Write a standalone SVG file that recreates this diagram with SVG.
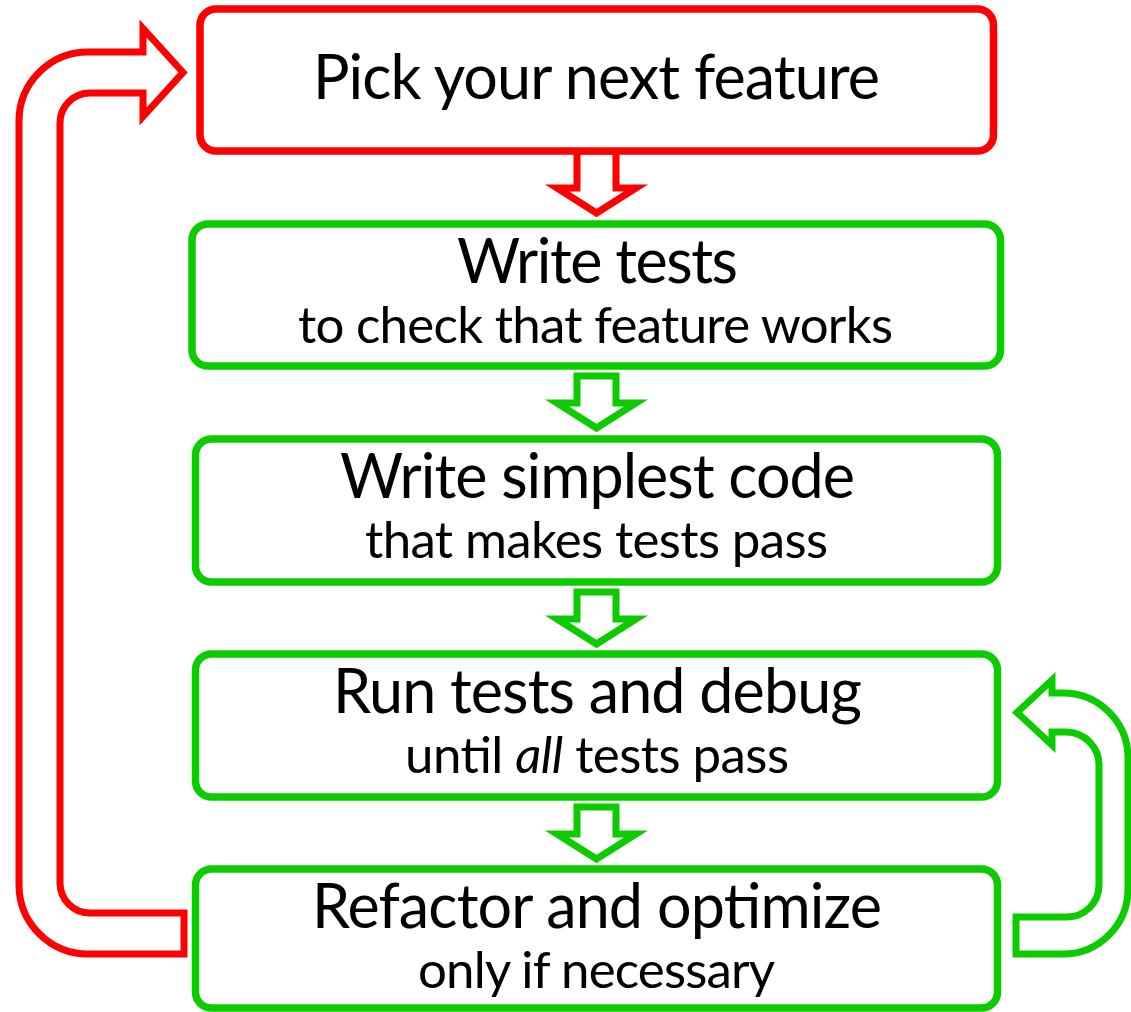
<svg xmlns="http://www.w3.org/2000/svg" width="1131" height="1012" viewBox="0 0 1131 1012">
<style>
.box{fill:#fff;stroke-width:7.5}
.red{stroke:#FF0000}
.grn{stroke:#0CCC00}
.arr{fill:#fff;stroke-width:7;stroke-linejoin:miter;stroke-miterlimit:10}
.t1{font-family:Lato,"Liberation Sans",sans-serif;font-size:61px;fill:#000;text-anchor:middle}
.t2{font-family:Lato,"Liberation Sans",sans-serif;font-size:51px;fill:#000;text-anchor:middle}
</style>
<rect width="1131" height="1012" fill="#fff"/>
<g id="connectors">
<path class="arr red" d="M184,954 L88,954 A69,69 0 0 1 19,885 L19,121 A69,69 0 0 1 88,52 L143,52 L143,28.5 L183,72.5 L143,116.5 L143,93 L90,93 A30,30 0 0 0 60,123 L60,883 A30,30 0 0 0 90,913 L184,913 Z"/>
<path class="arr grn" d="M1016,954 L1063,954 A65,65 0 0 0 1128,889 L1128,758 A65,65 0 0 0 1063,693 L1052,693 L1052,680 L1017,712.5 L1052,745 L1052,732 L1066,732 A33,33 0 0 1 1099,765 L1099,885 A32,32 0 0 1 1067,917 L1016,917 Z"/>
<path class="arr red" d="M577,151 L577,188 L557,188 L596.5,213 L636,188 L616,188 L616,151 Z"/>
<path class="arr grn" d="M577,376 L577,403 L557,403 L596.5,428 L636,403 L616,403 L616,376 Z"/>
<path class="arr grn" d="M577,592 L577,619 L557,619 L596.5,644 L636,619 L616,619 L616,592 Z"/>
<path class="arr grn" d="M577,807 L577,834 L557,834 L596.5,859 L636,834 L616,834 L616,807 Z"/>
</g>
<g id="node1">
<rect class="box red" x="200" y="9" width="793.5" height="142" rx="16"/>
<text class="t1" x="596.5" y="99" textLength="567" lengthAdjust="spacing">Pick your next feature</text>
</g>
<g id="node2">
<rect class="box grn" x="192" y="224" width="808.5" height="142" rx="16"/>
<text class="t1" x="597.5" y="283" textLength="281" lengthAdjust="spacing">Write tests</text>
<text class="t2" x="595.5" y="343" textLength="595" lengthAdjust="spacing">to check that feature works</text>
</g>
<g id="node3">
<rect class="box grn" x="195.5" y="439" width="802" height="143" rx="16"/>
<text class="t1" x="597.5" y="498" textLength="515" lengthAdjust="spacing">Write simplest code</text>
<text class="t2" x="596.5" y="558" textLength="463" lengthAdjust="spacing">that makes tests pass</text>
</g>
<g id="node4">
<rect class="box grn" x="195.5" y="654" width="802" height="143" rx="16"/>
<text class="t1" x="597.5" y="713" textLength="529" lengthAdjust="spacing">Run tests and debug</text>
<text class="t2" x="597" y="773" textLength="384" lengthAdjust="spacing">until <tspan font-style="italic">all</tspan> tests pass</text>
</g>
<g id="node5">
<rect class="box grn" x="195.5" y="869" width="802" height="139" rx="16"/>
<text class="t1" x="597" y="928" textLength="570" lengthAdjust="spacing">Refactor and optimize</text>
<text class="t2" x="596.5" y="988" textLength="357" lengthAdjust="spacing">only if necessary</text>
</g>
</svg>
